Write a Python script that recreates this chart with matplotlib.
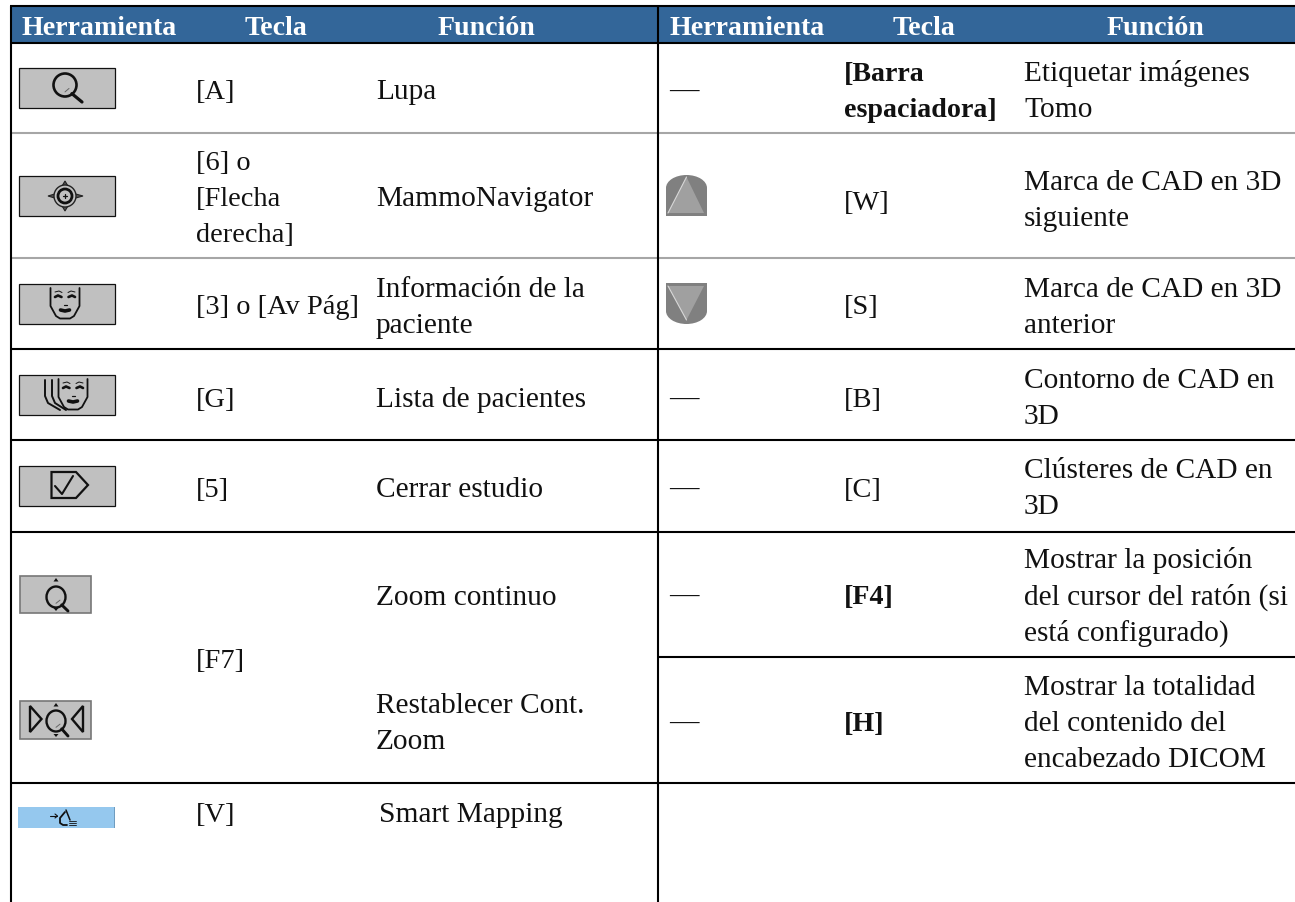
import matplotlib
matplotlib.use('Agg')
import matplotlib.pyplot as plt
from matplotlib.patches import Rectangle, Circle, Polygon, Ellipse

# table text
header_labels = ['Herramienta', 'Tecla', 'Función', 'Herramienta', 'Tecla', 'Función']
left_keys = [['[A]'], ['[6] o', '[Flecha', 'derecha]'], ['[3] o [Av Pág]'], ['[G]'], ['[5]'], ['[F7]'], ['[V]']]
left_funcs = [['Lupa'], ['MammoNavigator'], ['Información de la', 'paciente'], ['Lista de pacientes'],
              ['Cerrar estudio'], ['Zoom continuo'], ['Restablecer Cont.', 'Zoom'], ['Smart Mapping']]
right_keys = [['[Barra', 'espaciadora]'], ['[W]'], ['[S]'], ['[B]'], ['[C]'], ['[F4]'], ['[H]']]
right_bold = [True, False, False, False, False, True, True]
right_funcs = [['Etiquetar imágenes', 'Tomo'], ['Marca de CAD en 3D', 'siguiente'], ['Marca de CAD en 3D', 'anterior'],
               ['Contorno de CAD en', '3D'], ['Clústeres de CAD en', '3D'],
               ['Mostrar la posición', 'del cursor del ratón (si', 'está configurado)'],
               ['Mostrar la totalidad', 'del contenido del', 'encabezado DICOM']]

# layout, in pixels of the picture
left_key_y = [99, 170, 314, 407, 497, 668, 822]
left_func_y = [99, 206, 297, 407, 497, 605, 713, 822]
right_key_y = [81, 210, 314, 407, 497, 604, 731]
right_func_y = [81, 190, 297, 388, 478, 568, 695]
dash_y = [99, 407, 497, 604, 731]
header_x = [22, 245, 438, 670, 893, 1107]
LINE = 36.2
FS = 21.2
KEY_FS = 20.4
BOLD_FS = 20.2
HEAD_FS = 20.1
LW = 1.5
FONT = 'Liberation Serif'
INK = '#111111'

fig = plt.figure(figsize=(12.95, 9.03), dpi=100)
ax = fig.add_axes([0, 0, 1, 1])
ax.set_xlim(0, 1295)
ax.set_ylim(903, 0)
ax.axis('off')


def hline(x0, x1, y, color='black'):
    ax.plot([x0, x1], [y, y], color=color, lw=LW, solid_capstyle='butt', zorder=3)


def vline(x, y0, y1):
    ax.plot([x, x], [y0, y1], color='black', lw=LW, solid_capstyle='butt', zorder=3)


def cell(x, y, lines, fs=FS, bold=False):
    for i, s in enumerate(lines):
        ax.text(x, y + i * LINE, s, family=FONT, fontsize=fs, color=INK, va='baseline',
                fontweight='bold' if bold else 'normal')


def stroke(xs, ys, lw=1.6, color='#111111'):
    ax.plot(xs, ys, color=color, lw=lw, solid_capstyle='round', zorder=5)


def button(x0, y0, x1, y1, face='#C0C0C0', edge='#111111', lw=0.9):
    ax.add_patch(Rectangle((x0, y0), x1 - x0, y1 - y0, fc=face, ec=edge, lw=lw, zorder=4))


def glass(cx, cy, rx, ry, hx, hy, lw=1.7):
    ax.add_patch(Ellipse((cx, cy), 2 * rx, 2 * ry, fc='none', ec='#111111', lw=lw, zorder=5))
    stroke([cx + rx * 0.6, hx], [cy + ry * 0.75, hy], lw=lw + 0.4)
    stroke([cx, cx + 4], [cy + ry * 0.6, cy + ry * 0.3], lw=0.7, color='#666666')


def small_marks(cx, ytop, ybot):
    ax.add_patch(Polygon([(cx - 2.5, ytop + 3.5), (cx + 2.5, ytop + 3.5), (cx, ytop)], fc='#111111', ec='none', zorder=5))
    ax.add_patch(Polygon([(cx - 2.5, ybot - 3), (cx + 2.5, ybot - 3), (cx, ybot)], fc='#111111', ec='none', zorder=5))


def face(cx, cy):
    # outline of the face
    stroke([cx - 14.5, cx - 14.5, cx - 9, cx - 5, cx + 5, cx + 9, cx + 14.5, cx + 14.5],
           [cy - 15, cy + 3, cy + 13, cy + 15.5, cy + 15.5, cy + 13, cy + 3, cy - 15], lw=1.3)
    for sign in [-1, 1]:
        stroke([cx + sign * 10, cx + sign * 7, cx + sign * 3.5], [cy - 6, cy - 7.5, cy - 6], lw=1.9)
        stroke([cx + sign * 10, cx + sign * 6, cx + sign * 3], [cy - 11, cy - 12, cy - 10.5], lw=0.7)
    stroke([cx - 1.5, cx + 1.5], [cy + 1.5, cy + 1.5], lw=0.9)
    stroke([cx - 4.5, cx, cx + 4.5], [cy + 7, cy + 8, cy + 7], lw=2.6)


def triangle_icon(x0, x1, ytop, ybot, up):
    # grey rounded tab with the lighter triangle in it
    mid = (x0 + x1) / 2
    w = x1 - x0
    if up:
        ax.add_patch(Ellipse((mid, ytop + 13), w, 26, fc='#808080', ec='none', zorder=4))
        ax.add_patch(Rectangle((x0, ytop + 13), w, ybot - ytop - 13, fc='#808080', ec='none', zorder=4))
        pts = [(mid, ytop + 2), (x1 - 3, ybot - 3), (x0 + 2, ybot - 3)]
        edge = [pts[0], pts[2]]
    else:
        ax.add_patch(Ellipse((mid, ybot - 13), w, 26, fc='#808080', ec='none', zorder=4))
        ax.add_patch(Rectangle((x0, ytop), w, ybot - ytop - 13, fc='#808080', ec='none', zorder=4))
        pts = [(x0 + 2, ytop + 3), (x1 - 3, ytop + 3), (mid, ybot - 4)]
        edge = [pts[0], pts[2]]
    ax.add_patch(Polygon(pts, fc='#A0A0A0', ec='none', zorder=5))
    stroke([edge[0][0], edge[1][0]], [edge[0][1], edge[1][1]], lw=0.8, color='#D8D8D8')


# header band and grid
ax.add_patch(Rectangle((11, 7), 1284, 37, fc='#336699', ec='none', zorder=1))
hline(10, 1295, 7)
hline(10, 1295, 44)
for y in [134, 259]:
    hline(11, 1295, y, color='#A6A6A6')
for y in [350, 441, 533]:
    hline(11, 1295, y)
hline(658, 1295, 658)
hline(11, 1295, 784)
vline(11, 7, 903)
vline(658, 7, 903)

# header row
for x, s in zip(header_x, header_labels):
    ax.text(x, 35, s, family=FONT, fontsize=HEAD_FS, fontweight='bold', color='white', va='baseline', zorder=4)

# body text
for lines, y in zip(left_keys, left_key_y):
    cell(196, y, lines, fs=KEY_FS)
for lines, y in zip(left_funcs, left_func_y):
    cell(379 if lines[0] == 'Smart Mapping' else 376, y, lines)
for lines, y, b in zip(right_keys, right_key_y, right_bold):
    cell(844, y, lines, fs=BOLD_FS if b else KEY_FS, bold=b)
for lines, y in zip(right_funcs, right_func_y):
    cell(1024, y, lines)
for y in dash_y:
    ax.text(669, y, '—', family=FONT, fontsize=FS, color=INK, va='baseline')

# tool icons
button(18.5, 68.5, 114.5, 109)
glass(65, 86, 11.5, 11.5, 82, 103, lw=1.9)

button(18.5, 176.5, 114.5, 216.5)
ax.add_patch(Polygon([(48, 197), (58, 194), (65, 182), (72, 194), (83, 197), (72, 200), (65, 212), (58, 200)],
                     fc='#555555', ec='#222222', lw=0.8, zorder=5))
ax.add_patch(Circle((65, 197), 11, fc='#C0C0C0', ec='#222222', lw=1.0, zorder=5))
ax.add_patch(Circle((65, 197), 7, fc='#C0C0C0', ec='#111111', lw=2.0, zorder=5))
stroke([63, 67], [197, 197], lw=0.9)
stroke([65, 65], [195, 199], lw=0.9)

button(18.5, 284.5, 114.5, 324.5)
face(65, 304)

button(18.5, 375.5, 114.5, 415.5)
stroke([45, 45, 48, 60], [381, 397, 404, 411], lw=1.4)
stroke([52, 52, 55, 66], [381, 397, 404, 411], lw=1.4)
face(73, 395)

button(18.5, 466.5, 114.5, 506.5)
ax.add_patch(Polygon([(51.5, 473), (76, 473), (88, 486), (76, 499), (51.5, 499)],
                     fc='none', ec='#111111', lw=1.6, zorder=5))
stroke([55, 62, 73], [487, 495, 477], lw=1.5)

button(19.5, 577, 91, 614, edge='#777777', lw=1.2)
glass(56, 598, 9.5, 10.5, 68, 612)
small_marks(56, 579, 612)

button(19.5, 702, 91, 740, edge='#777777', lw=1.2)
glass(56, 722, 9.5, 10.5, 68, 737)
small_marks(56, 704, 738)
ax.add_patch(Polygon([(30, 707), (41.5, 720), (30, 733)], fc='none', ec='#111111', lw=1.7, zorder=5))
ax.add_patch(Polygon([(83, 707), (72, 720), (83, 733)], fc='none', ec='#111111', lw=1.7, zorder=5))

button(18, 808, 115, 829, face='#95C8EE', edge='none', lw=0)
ax.add_patch(Rectangle((114, 808), 1, 21, fc='#6F9CBF', ec='none', zorder=5))
stroke([50, 57], [817, 817], lw=0.8)
stroke([55, 57.5, 55], [815, 817, 819], lw=0.8)
stroke([65, 60, 60, 63, 67], [813, 819, 824, 826, 826], lw=1.3)
stroke([66, 68, 70], [811, 816, 821], lw=1.1)
for y in [822, 824, 826]:
    stroke([69, 76], [y, y], lw=0.6)

triangle_icon(666, 707, 176, 217, True)
triangle_icon(666, 707, 284, 325, False)

fig.savefig('out.png', dpi=100)
